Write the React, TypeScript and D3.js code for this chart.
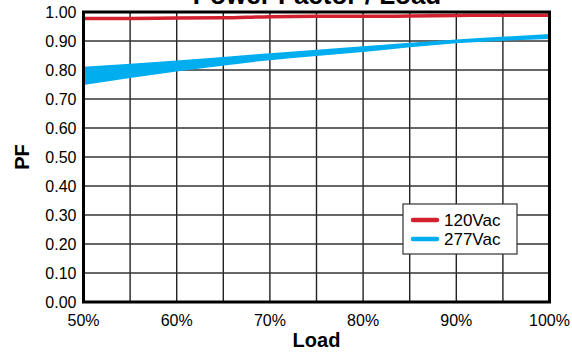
import React, { useEffect, useRef } from "react";
import * as d3 from "d3";

const width = 572;
const height = 352;

const xTicks = [50, 60, 70, 80, 90, 100];
const yTicks = [0, 0.1, 0.2, 0.3, 0.4, 0.5, 0.6, 0.7, 0.8, 0.9, 1.0];

// 120Vac
const load120 = [50, 55, 60, 65, 70, 75, 80, 85, 90, 95, 100];
const pf120 = [0.978, 0.978, 0.979, 0.98, 0.984, 0.985, 0.985, 0.986, 0.988, 0.989, 0.989];

// 277Vac drawn as a band (upper / lower)
const load277 = [50, 60, 70, 80, 90, 100];
const pf277Upper = [0.811, 0.833, 0.858, 0.882, 0.905, 0.924];
const pf277Lower = [0.748, 0.795, 0.834, 0.862, 0.892, 0.907];

const seriesNames = ["120Vac", "277Vac"];
const colors = ["#d3202f", "#00aeef"];

function App() {
  const svgRef = useRef<SVGSVGElement>(null);

  useEffect(() => {
    document.body.style.margin = "0";
    const svg = d3.select(svgRef.current);
    svg.selectAll("*").remove();

    const left = 83.5;
    const right = 549.5;
    const top = 12;
    const bottom = 302;

    const x = d3.scaleLinear().domain([50, 100]).range([left, right]);
    const y = d3.scaleLinear().domain([0, 1]).range([bottom, top]);

    const font = "Arial, 'Liberation Sans', sans-serif";

    // grid
    const grid = svg.append("g");
    grid
      .selectAll("line.v")
      .data(d3.range(55, 100, 5))
      .enter()
      .append("line")
      .attr("x1", d => x(d))
      .attr("x2", d => x(d))
      .attr("y1", top)
      .attr("y2", bottom)
      .attr("stroke", "#222")
      .attr("stroke-width", 1.4);
    grid
      .selectAll("line.h")
      .data(yTicks.slice(1, -1))
      .enter()
      .append("line")
      .attr("x1", left)
      .attr("x2", right)
      .attr("y1", d => y(d))
      .attr("y2", d => y(d))
      .attr("stroke", "#333")
      .attr("stroke-width", 1.4);

    // 277Vac band
    const band = load277.map((l, i) => ({ l, hi: pf277Upper[i], lo: pf277Lower[i] }));
    const area = d3
      .area<{ l: number; hi: number; lo: number }>()
      .x(d => x(d.l))
      .y0(d => y(d.lo))
      .y1(d => y(d.hi))
      .curve(d3.curveMonotoneX);
    svg.append("path").datum(band).attr("d", area).attr("fill", colors[1]);

    // 120Vac line
    const line = d3
      .line<number>()
      .x((d, i) => x(load120[i]))
      .y(d => y(d))
      .curve(d3.curveMonotoneX);
    svg
      .append("path")
      .datum(pf120)
      .attr("d", line)
      .attr("fill", "none")
      .attr("stroke", colors[0])
      .attr("stroke-width", 3.5);

    // frame
    svg
      .append("rect")
      .attr("x", left)
      .attr("y", top)
      .attr("width", right - left)
      .attr("height", bottom - top)
      .attr("fill", "none")
      .attr("stroke", "#000")
      .attr("stroke-width", 3);

    // tick labels
    svg
      .selectAll("text.yt")
      .data(yTicks)
      .enter()
      .append("text")
      .attr("x", left - 7)
      .attr("y", d => y(d) + 5.5)
      .attr("text-anchor", "end")
      .attr("font-family", font)
      .attr("font-size", 16)
      .text(d => d.toFixed(2));

    svg
      .selectAll("text.xt")
      .data(xTicks)
      .enter()
      .append("text")
      .attr("x", d => x(d))
      .attr("y", 326)
      .attr("text-anchor", "middle")
      .attr("font-family", font)
      .attr("font-size", 16)
      .text(d => `${d}%`);

    // axis titles
    svg
      .append("text")
      .attr("x", (left + right) / 2)
      .attr("y", 347)
      .attr("text-anchor", "middle")
      .attr("font-family", font)
      .attr("font-weight", "bold")
      .attr("font-size", 20)
      .text("Load");

    svg
      .append("text")
      .attr("transform", `translate(29, ${(top + bottom) / 2}) rotate(-90)`)
      .attr("text-anchor", "middle")
      .attr("font-family", font)
      .attr("font-weight", "bold")
      .attr("font-size", 20)
      .text("PF");

    // chart title (clipped at top, as in the source image)
    svg
      .append("text")
      .attr("x", 317)
      .attr("y", 4)
      .attr("text-anchor", "middle")
      .attr("font-family", font)
      .attr("font-weight", "bold")
      .attr("font-size", 26)
      .text("Power Factor / Load");

    // legend
    const lg = svg.append("g").attr("transform", "translate(403,204)");
    lg.append("rect")
      .attr("width", 114)
      .attr("height", 50)
      .attr("fill", "#fff")
      .attr("stroke", "#333")
      .attr("stroke-width", 1.2);
    seriesNames.forEach((name, i) => {
      lg.append("line")
        .attr("x1", 10)
        .attr("x2", 34)
        .attr("y1", 16 + i * 19)
        .attr("y2", 16 + i * 19)
        .attr("stroke", colors[i])
        .attr("stroke-width", 4.5)
        .attr("stroke-linecap", "round");
      lg.append("text")
        .attr("x", 41)
        .attr("y", 22 + i * 19)
        .attr("font-family", font)
        .attr("font-size", 17)
        .text(name);
    });
  }, []);

  return <svg ref={svgRef} width={width} height={height} style={{ display: "block", background: "#fff" }} />;
}

export default App;
